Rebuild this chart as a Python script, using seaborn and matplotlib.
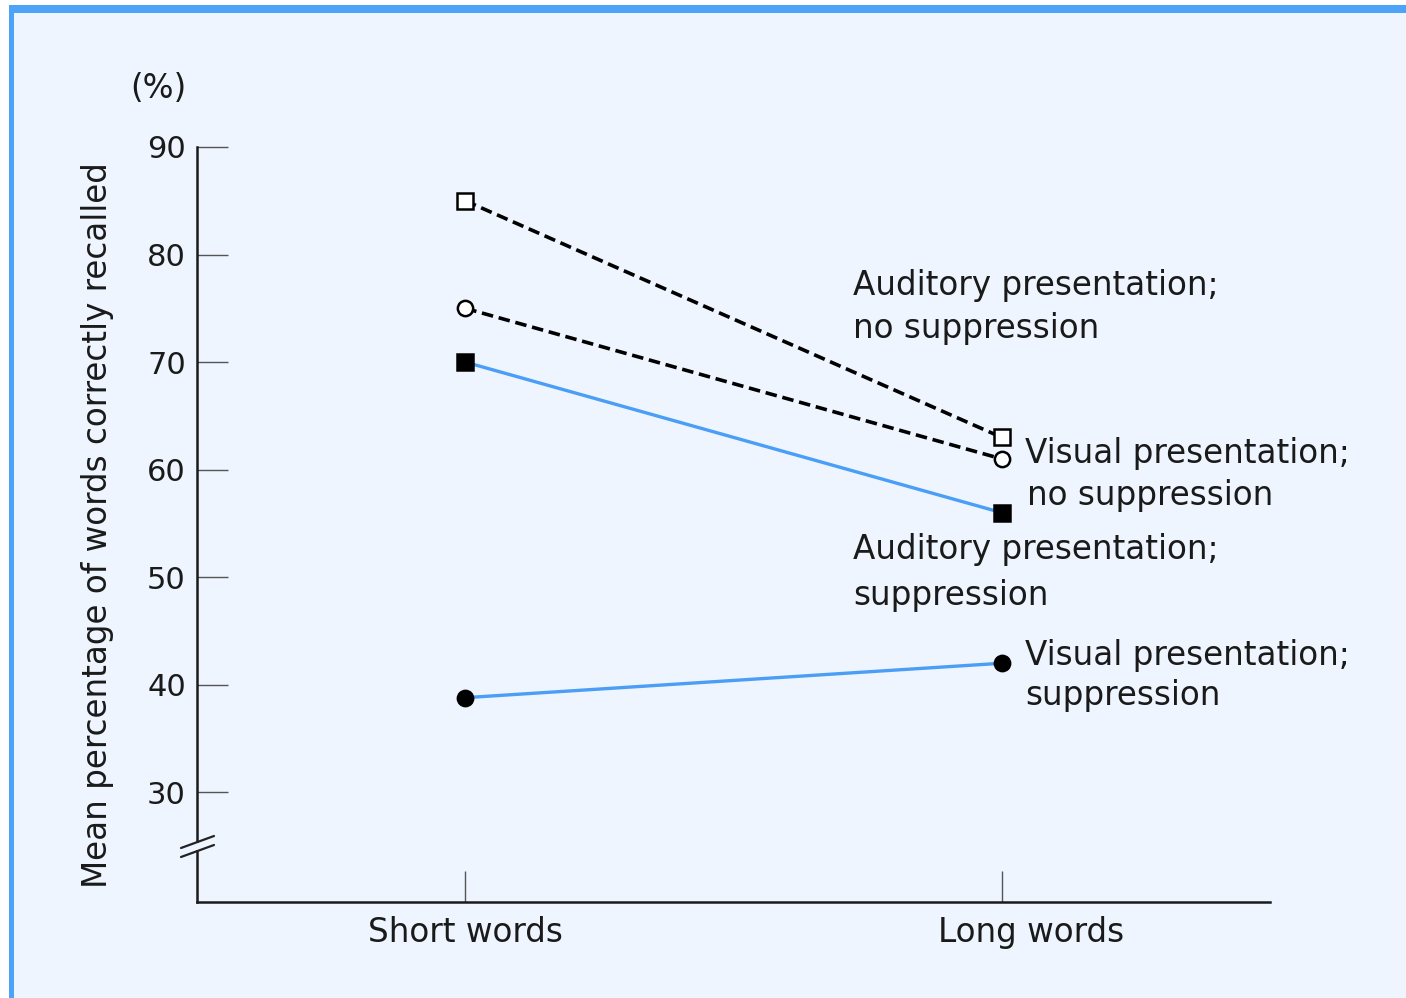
import matplotlib
matplotlib.use("Agg")
import matplotlib.pyplot as plt
import matplotlib.transforms as mtransforms
import seaborn as sns
import pandas as pd
from matplotlib.patches import Rectangle
from matplotlib.lines import Line2D

# ---- data ----
conditions = ["Short words", "Long words"]
aud_nosup = [85, 63]
vis_nosup = [75, 61]
aud_sup = [70, 56]
vis_sup = [38.8, 42]
yticks = [30, 40, 50, 60, 70, 80, 90]

BG = "#EEF5FF"
BLUE = "#4A9EF5"
BORDER = "#4DA3F8"
TXT = "#1a1a1a"
FS = 23.5

sns.set_theme(style="white")
plt.rcParams['font.family'] = ['DejaVu Sans']

W, H = 1406, 998
fig = plt.figure(figsize=(W / 100, H / 100), dpi=100)
fig.patch.set_facecolor("white")

def fx(px):
    return px / W

def fy(py):
    return 1 - py / H

# background panel + borders
fig.patches.append(Rectangle((fx(9), 0), 1 - fx(9), fy(5), transform=fig.transFigure,
                             facecolor=BG, edgecolor="none", zorder=-10))
fig.patches.append(Rectangle((fx(9), fy(13)), 1 - fx(9), fy(5) - fy(13), transform=fig.transFigure,
                             facecolor=BORDER, edgecolor="none", zorder=-9))
fig.patches.append(Rectangle((fx(9), 0), fx(14) - fx(9), fy(5), transform=fig.transFigure,
                             facecolor=BORDER, edgecolor="none", zorder=-9))

ax = fig.add_axes([fx(197), fy(902), fx(1270) - fx(197), fy(147) - fy(902)])
ax.set_facecolor("none")

xs = [0, 1]
series = [
    (aud_nosup, dict(color="black", linestyle=(0, (3.2, 1.6)), lw=2.6, marker="s",
                     markerfacecolor="white", markeredgecolor="black")),
    (vis_nosup, dict(color="black", linestyle=(0, (3.2, 1.6)), lw=2.6, marker="o",
                     markerfacecolor="white", markeredgecolor="black")),
    (aud_sup, dict(color=BLUE, linestyle="-", lw=2.4, marker="s",
                   markerfacecolor="black", markeredgecolor="black")),
    (vis_sup, dict(color=BLUE, linestyle="-", lw=2.4, marker="o",
                   markerfacecolor="black", markeredgecolor="black")),
]
for vals, kw in series:
    df = pd.DataFrame({"x": xs, "y": vals})
    sns.lineplot(data=df, x="x", y="y", ax=ax, markersize=11, markeredgewidth=1.8,
                 dash_capstyle="butt", **kw)

ax.set_xlim(-0.5, 1.5)
ax.set_ylim(19.8, 90)
ax.set_xticks(xs)
ax.set_xticklabels(conditions)
ax.set_yticks(yticks)
ax.set_yticklabels([str(v) for v in yticks])
ax.set_xlabel("")
ax.set_ylabel("")

for s in ["top", "right"]:
    ax.spines[s].set_visible(False)
for s in ["left", "bottom"]:
    ax.spines[s].set_color(TXT)
    ax.spines[s].set_linewidth(1.8)

ax.tick_params(axis="y", direction="in", length=22, width=1.0, color="#555555",
               labelsize=22, pad=8, labelcolor=TXT, left=True)
ax.tick_params(axis="x", direction="in", length=22, width=1.0, color="#555555",
               labelsize=FS, pad=10, labelcolor=TXT, bottom=True)

# "Long words" label sits slightly right of its tick in the original
lbl = ax.get_xticklabels()[1]
lbl.set_transform(lbl.get_transform() +
                  mtransforms.ScaledTranslation(29 / 100, 0, fig.dpi_scale_trans))

# axis break on y spine
fig.patches.append(Rectangle((fx(190), fy(850)), fx(205) - fx(190), fy(843) - fy(850),
                             transform=fig.transFigure, facecolor=BG, edgecolor="none", zorder=5))
for y0 in (842, 851):
    fig.lines.append(Line2D([fx(181), fx(214)], [fy(y0 + 6), fy(y0 - 6)],
                            transform=fig.transFigure, color="#222222", lw=1.6, zorder=6))

# y label and unit
fig.text(fx(98), fy(525), "Mean percentage of words correctly recalled", rotation=90,
         ha="center", va="center", fontsize=FS, color=TXT)
fig.text(fx(158), fy(88), "(%)", ha="center", va="center", fontsize=FS, color=TXT)

# annotations
labels = [
    (853, 285, "Auditory presentation;"), (853, 329, "no suppression"),
    (1025, 453, "Visual presentation;"), (1027, 495, "no suppression"),
    (853, 550, "Auditory presentation;"), (853, 595, "suppression"),
    (1025, 655, "Visual presentation;"), (1025, 695, "suppression"),
]
for x, y, t in labels:
    fig.text(fx(x), fy(y), t, ha="left", va="center", fontsize=FS, color=TXT)

fig.savefig("out.png", dpi=100, facecolor=fig.get_facecolor())
